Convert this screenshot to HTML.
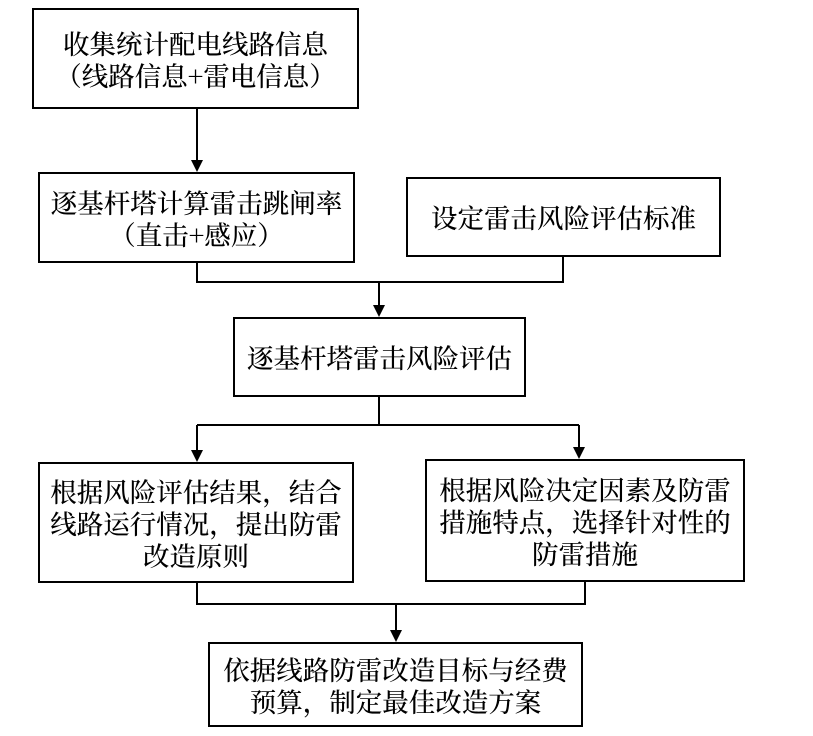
<!DOCTYPE html>
<html><head><meta charset="utf-8"><style>
body{margin:0;width:813px;height:736px;background:#fff;position:relative;overflow:hidden;font-family:"Noto Serif CJK SC","Liberation Serif",serif;}
.b{position:absolute;border:2px solid #000;box-sizing:border-box;display:flex;align-items:center;justify-content:center;text-align:center;font-size:26.5px;line-height:32px;color:#000;font-weight:500;}
svg{position:absolute;left:0;top:0;}
</style></head><body>
<svg width="813" height="736" viewBox="0 0 813 736">
<g stroke="#000" stroke-width="2" fill="none">
<path d="M197 108 V164"/>
<path d="M197 263 V282 H563 V257"/>
<path d="M379 282 V309"/>
<path d="M379 397 V425"/>
<path d="M197 425 H579"/>
<path d="M197 425 V454"/>
<path d="M579 425 V451"/>
<path d="M197 583 V604 H585 V582"/>
<path d="M396 604 V634"/>
</g>
<g fill="#000">
<polygon points="191,160 203,160 197,172"/>
<polygon points="373,305 385,305 379,317"/>
<polygon points="191,450 203,450 197,462"/>
<polygon points="573,447 585,447 579,459"/>
<polygon points="390,630 402,630 396,642"/>
</g>
</svg>
<div class="b" style="left:32px;top:8px;width:327px;height:101px;">收集统计配电线路信息<br>（线路信息+雷电信息）</div>
<div class="b" style="left:38px;top:172px;width:317px;height:91px;">逐基杆塔计算雷击跳闸率<br>（直击+感应）</div>
<div class="b" style="left:406px;top:177px;width:315px;height:80px;">设定雷击风险评估标准</div>
<div class="b" style="left:233px;top:317px;width:293px;height:80px;">逐基杆塔雷击风险评估</div>
<div class="b" style="left:38px;top:462px;width:316px;height:121px;">根据风险评估结果，结合<br>线路运行情况，提出防雷<br>改造原则</div>
<div class="b" style="left:425px;top:459px;width:320px;height:123px;">根据风险决定因素及防雷<br>措施特点，选择针对性的<br>防雷措施</div>
<div class="b" style="left:208px;top:642px;width:375px;height:85px;">依据线路防雷改造目标与经费<br>预算，制定最佳改造方案</div>
</body></html>
